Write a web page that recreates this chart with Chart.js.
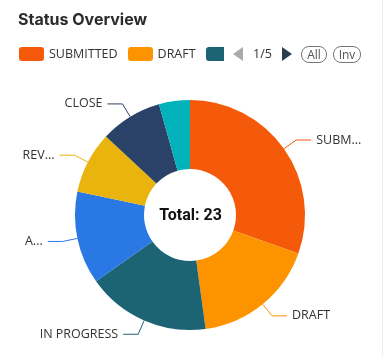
<!DOCTYPE html>
<html><head><meta charset="utf-8">
<script src="https://cdn.jsdelivr.net/npm/chart.js@4.4.1/dist/chart.umd.min.js"></script>
<style>
html,body{margin:0;padding:0;background:#fff;}
body{width:383px;height:357px;position:relative;overflow:hidden;font-family:'Open Sans',sans-serif;color:#333;}
#title{position:absolute;left:18px;top:7px;font:700 16px Inter,sans-serif;color:#2b2b2b;line-height:24px;white-space:nowrap;}
#legend{position:absolute;left:19px;top:47px;width:205px;height:14px;overflow:hidden;white-space:nowrap;font-size:12.5px;line-height:14px;}
.item{display:inline-block;margin-right:10px;vertical-align:top;}
.box{display:inline-block;width:25px;height:14px;border-radius:3px;vertical-align:top;margin-right:5px;}
.txt{display:inline-block;vertical-align:top;}
#prev{position:absolute;left:233px;top:47px;width:0;height:0;border-top:7px solid transparent;border-bottom:7px solid transparent;border-right:10px solid #aaa;}
#next{position:absolute;left:282px;top:47px;width:0;height:0;border-top:7px solid transparent;border-bottom:7px solid transparent;border-left:10px solid #2b3e50;}
#pager{position:absolute;left:253px;top:46px;font-size:12.5px;line-height:16px;color:#333;}
.pill{position:absolute;top:46px;border:1px solid #777;border-radius:8px;font-size:12px;line-height:15px;color:#555;text-align:center;box-sizing:border-box;height:17px;}
#edge{position:absolute;left:382px;top:0;width:1px;height:357px;background:#eeeeee;}
canvas{position:absolute;left:0;top:0;}
</style></head>
<body>
<canvas id="c" width="383" height="357"></canvas>
<div id="title"></div>
<div id="legend"></div>
<div id="prev"></div><div id="pager"></div><div id="next"></div>
<div class="pill" id="all" style="left:301px;width:26px;"></div>
<div class="pill" id="inv" style="left:333px;width:28px;"></div>
<div id="edge"></div>
<script>
const chartTitle = 'Status Overview';
const categories = ['SUBMITTED', 'DRAFT', 'IN PROGRESS', 'APPROVED', 'REVIEW', 'CLOSE', 'OPEN'];
const values = [7, 4, 4, 3, 2, 2, 1];
const colors = ['#f55a0a', '#fe9300', '#1c6474', '#2a78e4', '#eab40e', '#2b4268', '#02b2bb'];
const calloutText = ['SUBM...', 'DRAFT', 'IN PROGRESS', 'A...', 'REV...', 'CLOSE', ''];
const legendPager = '1/5';
const legendButtons = ['All', 'Inv'];
const legendVisibleCount = 3;

document.getElementById('title').textContent = chartTitle;
const lg = document.getElementById('legend');
categories.slice(0, legendVisibleCount).forEach((c, i) => {
  const it = document.createElement('span'); it.className = 'item';
  const b = document.createElement('span'); b.className = 'box'; b.style.background = colors[i];
  const t = document.createElement('span'); t.className = 'txt'; t.textContent = c;
  it.appendChild(b); it.appendChild(t); lg.appendChild(it);
});
document.getElementById('pager').textContent = legendPager;
document.getElementById('all').textContent = legendButtons[0];
document.getElementById('inv').textContent = legendButtons[1];

const total = values.reduce((a, b) => a + b, 0);

const calloutPlugin = {
  id: 'callouts',
  afterDatasetsDraw(chart) {
    const ctx = chart.ctx;
    const meta = chart.getDatasetMeta(0);
    meta.data.forEach((arc, i) => {
      const text = calloutText[i];
      if (!text) return;
      const p = arc.getProps(['x', 'y', 'startAngle', 'endAngle', 'outerRadius'], true);
      const a = (p.startAngle + p.endAngle) / 2;
      const cos = Math.cos(a), sin = Math.sin(a);
      const x1 = p.x + cos * p.outerRadius, y1 = p.y + sin * p.outerRadius;
      const x2 = p.x + cos * (p.outerRadius + 15), y2 = p.y + sin * (p.outerRadius + 15);
      const right = cos >= 0;
      const x3 = x2 + (right ? 15 : -15);
      ctx.save();
      ctx.strokeStyle = colors[i];
      ctx.lineWidth = 1;
      ctx.beginPath(); ctx.moveTo(x1, y1); ctx.lineTo(x2, y2); ctx.lineTo(x3, y2); ctx.stroke();
      ctx.fillStyle = '#333';
      ctx.font = '12.5px "Open Sans"';
      ctx.textBaseline = 'middle';
      ctx.textAlign = right ? 'left' : 'right';
      ctx.fillText(text, x3 + (right ? 5 : -5), y2);
      ctx.restore();
    });
  },
  afterDraw(chart) {
    const ctx = chart.ctx;
    const meta = chart.getDatasetMeta(0);
    const arc = meta.data[0];
    ctx.save();
    ctx.fillStyle = '#111';
    ctx.font = 'bold 16px Roboto';
    ctx.textAlign = 'center';
    ctx.textBaseline = 'alphabetic';
    ctx.fillText('Total: ' + total, arc.x + 0.5, arc.y + 5);
    ctx.restore();
  }
};

new Chart(document.getElementById('c'), {
  type: 'doughnut',
  data: {
    labels: categories,
    datasets: [{ data: values, backgroundColor: colors, borderWidth: 0, hoverOffset: 0, offset: 0 }]
  },
  options: {
    responsive: false,
    animation: false,
    cutout: '40%',
    layout: { padding: { left: 75, right: 78, top: 100, bottom: 27 } },
    plugins: { legend: { display: false }, tooltip: { enabled: false } }
  },
  plugins: [calloutPlugin]
});
</script>
</body></html>
